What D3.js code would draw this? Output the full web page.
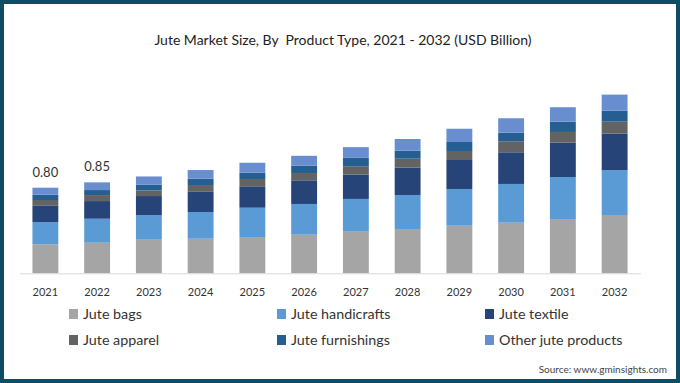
<!DOCTYPE html>
<html>
<head>
<meta charset="utf-8">
<script src="https://cdn.jsdelivr.net/npm/d3@7"></script>
<style>
  html, body { margin: 0; padding: 0; background: #fff; }
  svg { display: block; }
</style>
</head>
<body>
<svg id="chart" width="680" height="383"></svg>
<script>
const years = ["2021","2022","2023","2024","2025","2026","2027","2028","2029","2030","2031","2032"];
const seriesNames = ["Jute bags","Jute handicrafts","Jute textile","Jute apparel","Jute furnishings","Other jute products"];
const juteBags        = [0.271,0.286,0.314,0.323,0.339,0.361,0.389,0.414,0.445,0.473,0.507,0.545];
const juteHandicrafts = [0.208,0.224,0.228,0.250,0.274,0.287,0.306,0.318,0.343,0.362,0.393,0.418];
const juteTextile     = [0.156,0.165,0.180,0.193,0.200,0.221,0.227,0.255,0.271,0.296,0.321,0.342];
const juteApparel     = [0.050,0.056,0.053,0.059,0.068,0.068,0.079,0.084,0.084,0.103,0.100,0.112];
const juteFurnishings = [0.050,0.047,0.052,0.059,0.059,0.068,0.078,0.075,0.084,0.080,0.096,0.103];
const otherProducts   = [0.065,0.072,0.078,0.081,0.093,0.093,0.100,0.109,0.124,0.135,0.135,0.150];
const labelYears = ["2021","2022"];
const labelTexts = ["0.80","0.85"];
const colors = ["#a5a5a5","#5b9bd5","#264478","#636363","#255e91","#698ed0"];

const allSeries = [juteBags, juteHandicrafts, juteTextile, juteApparel, juteFurnishings, otherProducts];
const rows = years.map((y, i) => {
  const r = { year: y };
  seriesNames.forEach((n, k) => r[n] = allSeries[k][i]);
  return r;
});

const svg = d3.select("#chart");
const W = 680, H = 383;
const font = "Lato, 'Source Sans Pro', 'Noto Sans', sans-serif";

// border
svg.append("rect").attr("x", 2).attr("y", 2).attr("width", W - 4).attr("height", H - 4)
  .attr("fill", "#fff").attr("stroke", "#0f4c66").attr("stroke-width", 4);

// title
svg.append("text").attr("x", 343).attr("y", 45).attr("text-anchor", "middle")
  .attr("font-family", font).attr("font-size", 14).attr("fill", "#222")
  .style("white-space", "pre")
  .text("Jute Market Size, By  Product Type, 2021 - 2032 (USD Billion)");

const x = d3.scaleBand().domain(years).range([19.5, 640.5]).paddingInner(0.5).paddingOuter(0.25);
const y = d3.scaleLinear().domain([0, 1.8]).range([273.3, 273.3 - 1.8 * 107]);

const stack = d3.stack().keys(seriesNames);
const stacked = stack(rows);

svg.append("g").selectAll("g").data(stacked).join("g")
  .attr("fill", (d, i) => colors[i])
  .selectAll("rect").data(d => d).join("rect")
  .attr("x", d => x(d.data.year))
  .attr("width", x.bandwidth())
  .attr("y", d => y(d[1]))
  .attr("height", d => y(d[0]) - y(d[1]));

// axis
const xAxis = d3.axisBottom(x).tickSize(0).tickPadding(15);
const gx = svg.append("g").attr("transform", `translate(0,${y(0)})`).call(xAxis);
gx.select(".domain").attr("stroke", "#d9d9d9").attr("stroke-width", 1);
gx.selectAll("text").attr("font-family", font).attr("font-size", 11).attr("fill", "#333");

// data labels
const totals = rows.map(r => d3.sum(seriesNames, n => r[n]));
svg.append("g").selectAll("text").data(labelYears).join("text")
  .attr("x", d => x(d) + x.bandwidth() / 2)
  .attr("y", d => y(totals[years.indexOf(d)]) - 11)
  .attr("text-anchor", "middle")
  .attr("font-family", font).attr("font-size", 13).attr("fill", "#333")
  .text((d, i) => labelTexts[i]);

// legend
const legX = [69, 277, 485];
const legY = [314, 340];
const lg = svg.append("g").selectAll("g").data(seriesNames).join("g")
  .attr("transform", (d, i) => `translate(${legX[i % 3]},${legY[Math.floor(i / 3)]})`);
lg.append("rect").attr("x", 0).attr("y", -5).attr("width", 9).attr("height", 10)
  .attr("fill", (d, i) => colors[i]);
lg.append("text").attr("x", 14).attr("y", 0).attr("dy", "0.35em")
  .attr("font-family", font).attr("font-size", 14.3).attr("fill", "#333")
  .text(d => d);

// source
svg.append("text").attr("x", 667).attr("y", 373).attr("text-anchor", "end")
  .attr("font-family", font).attr("font-size", 10).attr("fill", "#444")
  .text("Source: www.gminsights.com");
</script>
</body>
</html>
